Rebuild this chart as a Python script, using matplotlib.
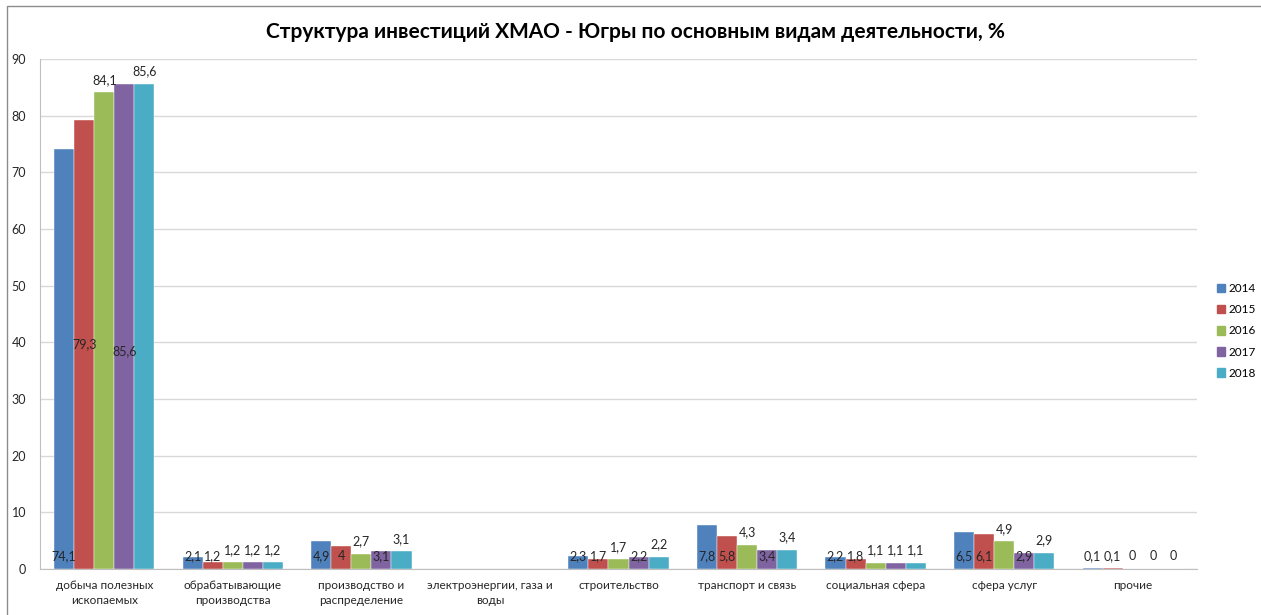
"""Investment structure chart (KhMAO - Yugra) by main activity, %"""

import matplotlib
matplotlib.use("Agg")
import matplotlib.pyplot as plt
from matplotlib.patches import Rectangle
import numpy as np

plt.rcParams['font.family'] = ['Lato', 'DejaVu Sans']

categories = [
    "добыча полезных\nископаемых",
    "обрабатывающие\nпроизводства",
    "производство и\nраспределение",
    "электроэнергии, газа и\nводы",
    "строительство",
    "транспорт и связь",
    "социальная сфера",
    "сфера услуг",
    "прочие",
]
years = ["2014", "2015", "2016", "2017", "2018"]

# None = no bar for that category
v2014 = [74.1, 2.1, 4.9, None, 2.3, 7.8, 2.2, 6.5, 0.1]
v2015 = [79.3, 1.2, 4.0, None, 1.7, 5.8, 1.8, 6.1, 0.1]
v2016 = [84.1, 1.2, 2.7, None, 1.7, 4.3, 1.1, 4.9, 0.0]
v2017 = [85.6, 1.2, 3.1, None, 2.2, 3.4, 1.1, 2.9, 0.0]
v2018 = [85.6, 1.2, 3.1, None, 2.2, 3.4, 1.1, 2.9, 0.0]
series = [v2014, v2015, v2016, v2017, v2018]

colors = ["#4F81BD", "#C0504D", "#9BBB59", "#8064A2", "#4BACC6"]

# label placement as in the source chart: base / mid / end
label_modes = [
    ["base"] * 9,
    ["mid"] + ["base"] * 8,
    ["end"] * 9,
    ["mid", "end", "base", "base", "base", "base", "end", "base", "end"],
    ["end"] * 9,
]
mid_frac = [0.5, 0.5, 0.5, 0.45, 0.5]

W, H = 1261, 615
fig = plt.figure(figsize=(W / 100, H / 100), dpi=100)
ax = fig.add_axes([40 / W, 1 - 569 / H, (1197 - 40) / W, (569 - 59) / H])

# outer chart frame
fig.patches.append(Rectangle((7 / W, -0.05), 1.2, 0.05 + 1 - 5.5 / H,
                             transform=fig.transFigure, fill=False,
                             edgecolor="#8c8c8c", linewidth=1.0))

x = np.arange(len(categories))
bw = 0.156
label_color = "#262626"
lfs = 9

for i, (vals, col) in enumerate(zip(series, colors)):
    xs = x + (i - 2) * bw
    for j, v in enumerate(vals):
        if v is None:
            continue
        ax.bar(xs[j], v, width=bw, color=col, edgecolor="white",
               linewidth=0.3, zorder=3)
        mode = label_modes[i][j]
        txt = f"{v:g}".replace(".", ",")
        if mode == "mid":
            ax.annotate(txt, (xs[j], v * mid_frac[i]), ha="center", va="center",
                        fontsize=lfs, color=label_color, zorder=4)
        elif mode == "base":
            ax.annotate(txt, (xs[j], 0), xytext=(0, 9), textcoords="offset points",
                        ha="center", va="center", fontsize=lfs,
                        color=label_color, zorder=4)
        else:
            ax.annotate(txt, (xs[j], v), xytext=(0, 9), textcoords="offset points",
                        ha="center", va="center", fontsize=lfs,
                        color=label_color, zorder=4)

ax.set_xlim(-0.5, len(categories) - 0.5)
ax.set_ylim(0, 90)
ax.set_yticks(np.arange(0, 91, 10))
ax.set_xticks(x)
ax.set_xticklabels(categories, fontsize=8.5, color="#262626", linespacing=1.45)
ax.tick_params(axis="y", labelsize=9, colors="#262626", length=0, pad=10)
ax.tick_params(axis="x", length=0, pad=8)
ax.grid(axis="y", color="#d9d9d9", linewidth=1.0, zorder=0)
ax.set_axisbelow(True)
for s in ["top", "right"]:
    ax.spines[s].set_visible(False)
ax.spines["left"].set_color("#bfbfbf")
ax.spines["bottom"].set_color("#bfbfbf")

fig.text(635 / W, 1 - 32 / H,
         "Структура инвестиций ХМАО - Югры по основным видам деятельности, %",
         ha="center", va="center", fontsize=15, fontweight="bold", color="black")

handles = [Rectangle((0, 0), 1, 1, color=c) for c in colors]
fig.legend(handles, years, loc="center left", bbox_to_anchor=(1212 / W, 1 - 331 / H),
           frameon=False, fontsize=8.5, handlelength=0.7, handleheight=0.7,
           handletextpad=0.3, labelspacing=0.85, borderaxespad=0)

fig.savefig("out.png", dpi=100)
